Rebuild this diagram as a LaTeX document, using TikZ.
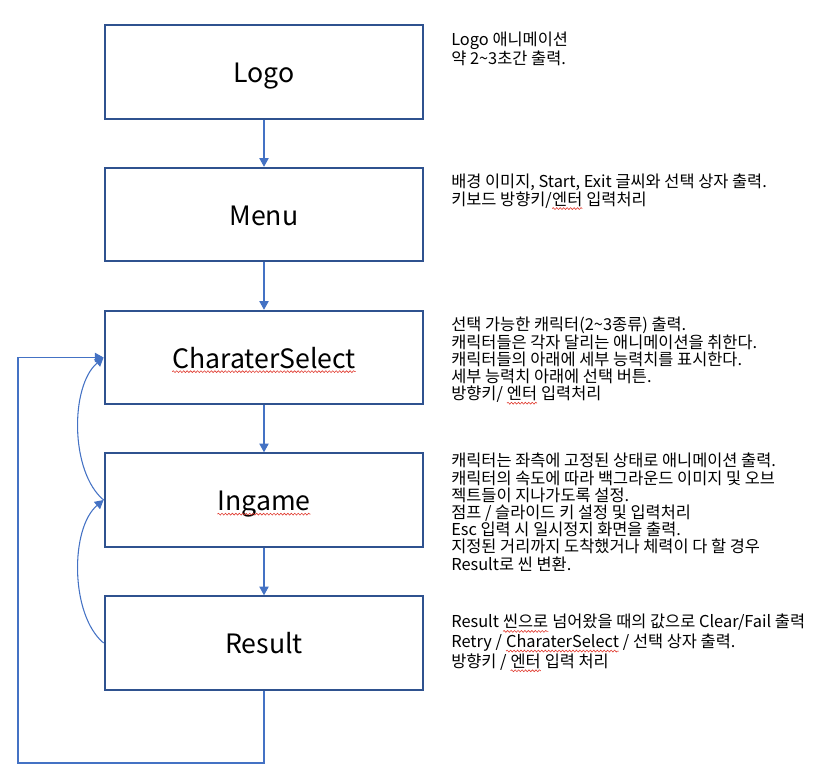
\documentclass[tikz,border=0pt]{standalone}
\usepackage{fontspec}
\setmainfont{Noto Sans CJK KR}
\usetikzlibrary{arrows.meta,decorations.pathmorphing}
\definecolor{boxblue}{HTML}{2F528F}
\definecolor{lineblue}{HTML}{4472C4}
\definecolor{spellred}{HTML}{E03C31}
% red wavy mark under a word
\newcommand\redwave[1]{\tikz[baseline=(w.base),x=1pt,y=1pt]{\node[inner sep=0pt,outer sep=0pt,minimum size=0pt,draw=none,text height=,text depth=,anchor=base west] (w) {#1};
  \draw[spellred,line width=0.45pt,decorate,decoration={snake,amplitude=0.7pt,segment length=2.6pt}] ([yshift=-2.6pt]w.base west) -- ([yshift=-2.6pt]w.base east);}}
\tikzset{
  stage/.style={draw=boxblue,line width=1.6pt,minimum width=239pt,minimum height=70pt,text height=18pt,text depth=2pt,font=\fontsize{20}{24}\selectfont},
  flow/.style={draw=lineblue,line width=0.8pt,-{Triangle[length=6.5pt,width=7pt]}},
  note/.style={anchor=north west,align=left,inner sep=0pt,font=\fontsize{12.3}{12.9}\selectfont}
}
\begin{document}
\begin{tikzpicture}[x=0.75pt,y=-0.75pt]
  \useasboundingbox (0,0) rectangle (817,784);
  % stages
  \node[stage] (logo) at (264,72) {Logo};
  \node[stage] (menu) at (264,214.5) {Menu};
  \node[stage] (charsel) at (264,357.5) {\redwave{CharaterSelect}};
  \node[stage] (ingame) at (264,500) {\redwave{Ingame}};
  \node[stage] (result) at (264,643) {Result};
  \foreach \a/\b in {logo/menu,menu/charsel,charsel/ingame,ingame/result}
    \draw[flow] (\a) -- (\b);
  % back links
  \draw[flow] (ingame.west) .. controls (70,472) and (70,386) .. (charsel.west);
  \draw[flow] (result.west) .. controls (70,615) and (70,528) .. (ingame.west);
  \coordinate (loopa) at (18,763);
  \draw[flow] (result.south) |- (loopa) |- (charsel.west);
  % notes
  \node[note] (logonote) at (451,32) {Logo 애니메이션\\약 2\textasciitilde3초간 출력.};
  \node[note] (menunote) at (451,174) {배경 이미지, Start, Exit 글씨와 선택 상자 출력.\\키보드 방향키/\redwave{엔터} 입력처리};
  \node[note] (charselnote) at (451,317) {선택 가능한 캐릭터(2\textasciitilde3종류) 출력.\\캐릭터들은 각자 달리는 애니메이션을 취한다.\\캐릭터들의 아래에 세부 능력치를 표시한다.\\세부 능력치 아래에 선택 버튼.\\방향키/ \redwave{엔터} 입력처리};
  \node[note] (ingamenote) at (451,453) {캐릭터는 좌측에 고정된 상태로 애니메이션 출력.\\캐릭터의 속도에 따라 백그라운드 이미지 및 오브\\젝트들이 지나가도록 설정.\\점프 / 슬라이드 키 설정 및 입력처리\\Esc 입력 시 일시정지 화면을 출력.\\지정된 거리까지 도착했거나 체력이 다 할 경우\\Result로 씬 변환.};
  \node[note] (resultnote) at (451,614) {Result \redwave{씬으로} 넘어왔을 때의 값으로 Clear/Fail 출력\\Retry / \redwave{CharaterSelect} / 선택 상자 출력.\\방향키 / \redwave{엔터} 입력 처리};
\end{tikzpicture}
\end{document}
